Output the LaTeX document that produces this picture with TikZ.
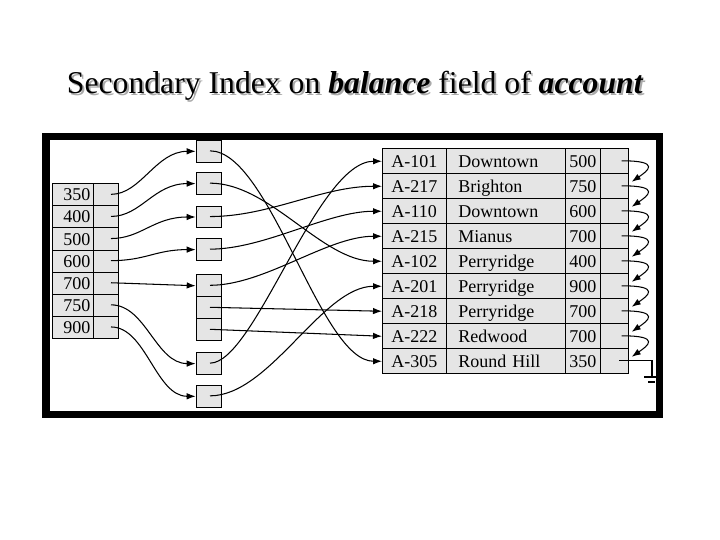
\documentclass[tikz,border=0pt]{standalone}
\usepackage{fontspec}
\setmainfont{Liberation Serif}
\usetikzlibrary{arrows.meta,calc}
\definecolor{cellgray}{RGB}{229,229,229}
\definecolor{shadowgray}{RGB}{170,170,170}
\begin{document}
\begin{tikzpicture}[x=1pt,y=-1pt,
  cell/.style={draw, fill=cellgray, line width=0.9pt, inner sep=0pt, anchor=north west},
  tabfont/.style={font=\fontsize{18}{21}\selectfont, text height=12pt, text depth=0pt},
  ptr/.style={line width=1.05pt, -{Latex[length=9pt,width=6.5pt]}},
  titlefont/.style={font=\fontsize{31.7}{38}\selectfont, inner sep=0pt, anchor=base west}]
\useasboundingbox (0,0) rectangle (720,540);
\fill[white] (0,0) rectangle (720,540);
% title with shadow
\node[titlefont, text=shadowgray] (tshadow) at (68.7,95.3) {Secondary Index on \textbf{\textit{balance}} field of \textbf{\textit{account}}};
\node[titlefont] (title) at (66.7,93.3) {Secondary Index on \textbf{\textit{balance}} field of \textbf{\textit{account}}};
% frame
\draw[line width=7.5pt] (45.75,136.75) rectangle (659.25,414.25);
% secondary index (left)
\foreach \v [count=\i] in {350,400,500,600,700,750,900} {
  \node[cell, minimum width=41pt, minimum height=22.1pt, text width=35pt, align=right, tabfont] (k\i) at (52,{183.3+22.1*(\i-1)}) {\v};
  \node[cell, minimum width=25pt, minimum height=22.1pt] (p\i) at (93,{183.3+22.1*(\i-1)}) {};
  \coordinate (ks\i) at (111,{194.35+22.1*(\i-1)});
}
% buckets
\foreach \n/\t in {1/140,2/172.3,3/205.7,4/238.3,6/352.3,7/385} {
  \node[cell, minimum width=25.3pt, minimum height=21.7pt] (bk\n) at (195.7,\t) {};
  \coordinate (bs\n) at (210,{\t+10.85});
}
\foreach \n/\t in {a/274.3,b/296.3,c/318.3} {
  \node[cell, minimum width=25.3pt, minimum height=22pt] (bk5\n) at (195.7,\t) {};
  \coordinate (bs5\n) at (210,{\t+11});
}
% account file
\foreach \a/\b/\c [count=\i] in {A-101/Downtown/500,A-217/Brighton/750,A-110/Downtown/600,A-215/Mianus/700,A-102/Perryridge/400,A-201/Perryridge/900,A-218/Perryridge/700,A-222/Redwood/700,A-305/Round Hill/350} {
  \node[cell, minimum width=63.7pt, minimum height=25pt, tabfont] (fa\i) at (382,{148.3+25*(\i-1)}) {\a};
  \node[cell, minimum width=119.3pt, minimum height=25pt, text width=94.7pt, align=left, tabfont] (fb\i) at (445.7,{148.3+25*(\i-1)}) {\b};
  \node[cell, minimum width=35pt, minimum height=25pt, tabfont] (fc\i) at (565,{148.3+25*(\i-1)}) {\c};
  \node[cell, minimum width=28pt, minimum height=25pt] (fd\i) at (600,{148.3+25*(\i-1)}) {};
  \coordinate (fs\i) at (621.7,{160.8+25*(\i-1)});
  \coordinate (ft\i) at (631.7,{156.8+25*(\i-1)});
}
% index -> buckets
\draw[ptr] (ks1) to[out=0,in=180,out distance=30pt,in distance=40pt] (bk1.west);
\draw[ptr] (ks2) to[out=0,in=180,out distance=30pt,in distance=42pt] (bk2.west);
\draw[ptr] (ks3) to[out=0,in=180,out distance=30pt,in distance=42pt] (bk3.west);
\draw[ptr] (ks4) to[out=0,in=180,out distance=35pt,in distance=40pt] (bk4.west);
\draw[ptr] (ks5) -- (bk5a.west);
\draw[ptr] (ks6) to[out=0,in=180,out distance=35pt,in distance=40pt] (bk6.west);
\draw[ptr] (ks7) to[out=0,in=180,out distance=35pt,in distance=40pt] (bk7.west);
% buckets -> records
\draw[ptr] (bs1) to[out=0,in=180,out distance=60pt,in distance=62pt] (fa9.west);
\draw[ptr] (bs2) to[out=0,in=180,out distance=60pt,in distance=60pt] (fa5.west);
\draw[ptr] (bs3) to[out=0,in=180,out distance=60pt,in distance=60pt] (fa2.west);
\draw[ptr] (bs4) to[out=0,in=180,out distance=55pt,in distance=55pt] (fa3.west);
\draw[ptr] (bs5a) to[out=0,in=180,out distance=55pt,in distance=55pt] (fa4.west);
\draw[ptr] (bs5b) -- (fa7.west);
\draw[ptr] (bs5c) -- (fa8.west);
\draw[ptr] (bs6) to[out=0,in=180,out distance=45pt,in distance=65pt] (fa1.west);
\draw[ptr] (bs7) to[out=0,in=180,out distance=60pt,in distance=60pt] (fa6.west);
% chain of records with equal balance
\foreach \i [evaluate=\i as \j using int(\i+1)] in {1,...,8} {
  \draw[ptr] (fs\i) .. controls ($(fs\i)+(40,0)$) and ($(ft\j)+(16,-11)$) .. (ft\j);
}
% end of chain (null)
\coordinate (fe9) at (619,360.8);
\coordinate (gnd) at (652,377);
\coordinate (g1) at (644,377);
\coordinate (g2) at (660,377);
\coordinate (g3) at (648,382);
\coordinate (g4) at (655,382);
\draw[line width=1.2pt] (fe9) -| (gnd);
\draw[line width=1.2pt] (g1) -- (g2);
\draw[line width=1.2pt] (g3) -- (g4);
\end{tikzpicture}
\end{document}
